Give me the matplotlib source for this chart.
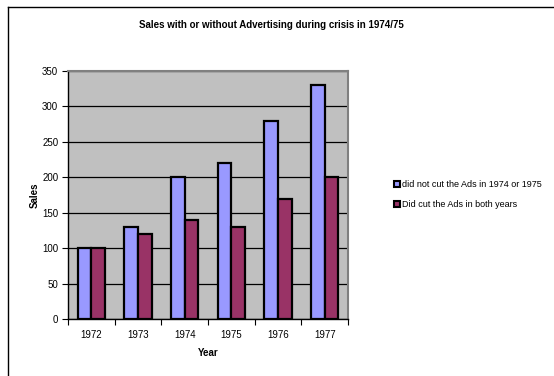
import matplotlib.pyplot as plt
from matplotlib.lines import Line2D
import numpy as np

plt.rcParams['font.family'] = ['Liberation Sans', 'DejaVu Sans']

years = ['1972', '1973', '1974', '1975', '1976', '1977']
no_cut = [100, 130, 200, 220, 280, 330]   # did not cut the ads
did_cut = [100, 120, 140, 130, 170, 200]  # did cut the ads
labels = ['did not cut the Ads in 1974 or 1975', 'Did cut the Ads in both years']
colors = ['#9999FF', '#993366']

fig = plt.figure(figsize=(5.54, 3.76), dpi=100)
ax = fig.add_axes([0.1227, 0.1516, 0.5054, 0.6596])
ax.set_facecolor('#C0C0C0')

x = np.arange(len(years))
w = 0.29
ax.bar(x - w / 2, no_cut, w, color=colors[0], edgecolor='black', linewidth=1.6, zorder=3)
ax.bar(x + w / 2, did_cut, w, color=colors[1], edgecolor='black', linewidth=1.6, zorder=3)

ax.set_xlim(-0.5, len(years) - 0.5)
ax.set_ylim(0, 350)
ax.set_yticks(np.arange(0, 351, 50))
ax.yaxis.grid(True, color='black', linewidth=0.9, zorder=1)
ax.set_axisbelow(True)

# year labels at the centres, tick marks at the category boundaries
ax.set_xticks(x)
ax.set_xticklabels(years)
ax.set_xticks(np.arange(-0.5, len(years), 1), minor=True)
ax.tick_params(axis='x', which='major', length=0, pad=8, labelsize=7)
ax.tick_params(axis='x', which='minor', length=4, width=0.8, direction='out')
ax.tick_params(axis='y', length=4, width=0.8, labelsize=7, pad=3)

for s in ['top', 'right']:
    ax.spines[s].set_color('#808080')
    ax.spines[s].set_linewidth(1.5)
for s in ['left', 'bottom']:
    ax.spines[s].set_color('black')
    ax.spines[s].set_linewidth(1.0)

ax.set_xlabel('Year', fontsize=7, fontweight='bold', labelpad=6)
ax.set_ylabel('Sales', fontsize=7, fontweight='bold', labelpad=2)

fig.text(0.49, 0.933, 'Sales with or without Advertising during crisis in 1974/75',
         ha='center', va='center', fontsize=7, fontweight='bold')

handles = [Line2D([], [], linestyle='none', marker='s', markersize=5,
                  markerfacecolor=c, markeredgecolor='black', markeredgewidth=1.5)
           for c in colors]
fig.legend(handles, labels, loc='upper left', bbox_to_anchor=(0.705, 0.53),
           frameon=False, fontsize=6.5, handlelength=0.6, handletextpad=0.3,
           labelspacing=1.2, borderaxespad=0)

# outer chart frame (left and top edges)
fig.add_artist(Line2D([0.0145, 0.0145], [0.0, 0.981], color='black', linewidth=1.0))
fig.add_artist(Line2D([0.0145, 1.0], [0.981, 0.981], color='black', linewidth=1.0))

fig.savefig('out.png', dpi=100)
